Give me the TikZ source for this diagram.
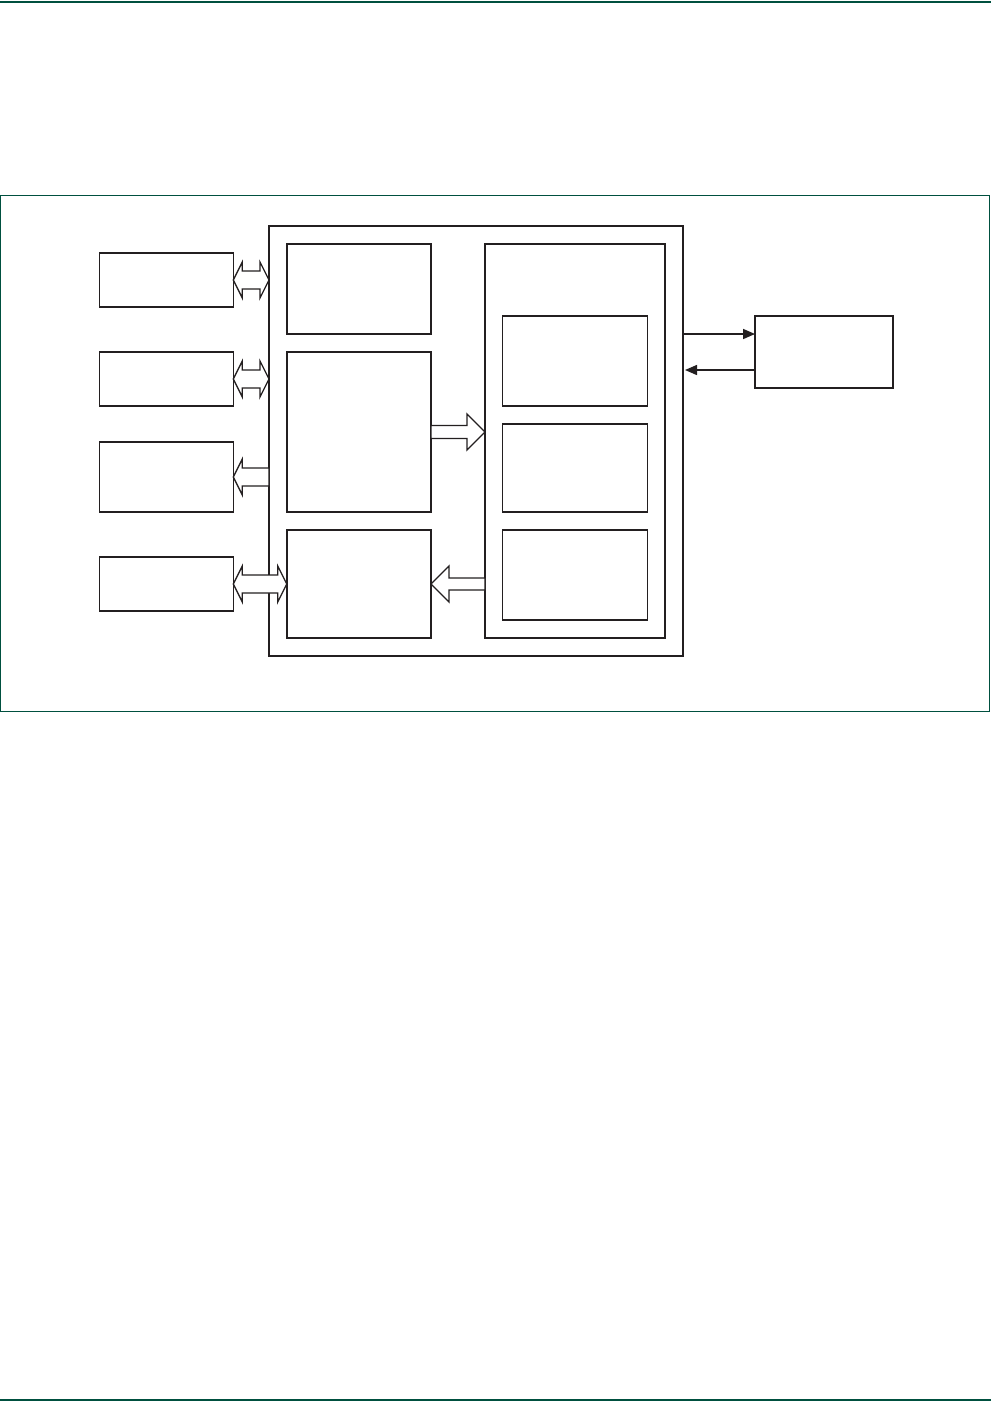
\documentclass[tikz,border=0pt]{standalone}
\usetikzlibrary{arrows.meta,calc}
\definecolor{ink}{HTML}{231F20}
\definecolor{rule}{HTML}{00503F}
\newcommand{\dblarr}[2]{%
  \draw[blockarrow] let \p1=(#1), \p2=(#2) in
    (\x1,\y1) -- ({\x1+9pt},{\y1+18pt}) -- ({\x1+9pt},{\y1+9pt}) -- ({\x2-9pt},{\y1+9pt})
    -- ({\x2-9pt},{\y1+18pt}) -- (\x2,\y1) -- ({\x2-9pt},{\y1-18pt}) -- ({\x2-9pt},{\y1-9pt})
    -- ({\x1+9pt},{\y1-9pt}) -- ({\x1+9pt},{\y1-18pt}) -- cycle;}
\newcommand{\blockarr}[5]{%
  \draw[blockarrow] let \p1=(#1), \p2=(#2), \n1={sign(\x2-\x1)} in
    (\x1,{\y1+#3}) -- ({\x2-(\n1)*#5},{\y1+#3}) -- ({\x2-(\n1)*#5},{\y1+#4}) -- (\x2,\y1)
    -- ({\x2-(\n1)*#5},{\y1-#4}) -- ({\x2-(\n1)*#5},{\y1-#3}) -- (\x1,{\y1-#3}) -- cycle;}
\begin{document}
\begin{tikzpicture}[x=1pt,y=-1pt,line join=miter,
  every node/.style={inner sep=0pt,outer sep=0pt},
  unit/.style={draw=ink,line width=1.5pt,rectangle},
  blockarrow/.style={draw=ink,fill=white,line width=1.3pt},
  sig/.style={draw=ink,line width=1.5pt,-{Triangle[length=12pt,width=10pt]}}]
  \useasboundingbox (0,0) rectangle (991,1401);
  \draw[rule,line width=2pt] (0,1.5) -- (991,1.5);
  \draw[rule,line width=2pt] (0,1399.5) -- (991,1399.5);
  \node[draw=rule,line width=1.2pt,minimum width=989pt,minimum height=516pt] (frame) at (495,453.7) {};
  % left units
  \node[unit,minimum width=134pt,minimum height=54pt] (b1) at (166.3,280) {};
  \node[unit,minimum width=134pt,minimum height=54pt] (b2) at (166.3,379) {};
  \node[unit,minimum width=134pt,minimum height=70pt] (b3) at (166.3,477) {};
  \node[unit,minimum width=134pt,minimum height=54pt] (b4) at (166.3,584) {};
  % main block
  \node[unit,minimum width=414pt,minimum height=430pt] (outer) at (476,441) {};
  \node[unit,minimum width=144.3pt,minimum height=90pt] (ca) at (358.9,289) {};
  \node[unit,minimum width=144.3pt,minimum height=160pt] (cb) at (358.9,432) {};
  \node[unit,minimum width=144.3pt,minimum height=108pt] (cc) at (358.9,584) {};
  \node[unit,minimum width=180pt,minimum height=394pt] (rc) at (575,441) {};
  \node[unit,minimum width=144.6pt,minimum height=90pt] (rd) at (575,361) {};
  \node[unit,minimum width=144.6pt,minimum height=88pt] (re) at (575,468) {};
  \node[unit,minimum width=144.6pt,minimum height=90pt] (rf) at (575,575) {};
  \node[unit,minimum width=137.7pt,minimum height=72.3pt] (ext) at (823.9,351.9) {};
  % block arrows
  \dblarr{b1.east}{outer.west |- b1.east}
  \dblarr{b2.east}{outer.west |- b2.east}
  \blockarr{outer.west |- b3.east}{b3.east}{9pt}{18pt}{9pt}
  \dblarr{b4.east}{cc.west}
  \blockarr{cb.east}{rc.west |- cb.east}{6.5pt}{18pt}{18pt}
  \blockarr{rc.west |- cc.east}{cc.east}{6pt}{18pt}{18pt}
  % signals
  \draw[sig] (outer.east |- 0,334) -- (ext.west |- 0,334);
  \draw[sig,shorten >=2pt] (ext.west |- 0,370) -- (outer.east |- 0,370);
\end{tikzpicture}
\end{document}
